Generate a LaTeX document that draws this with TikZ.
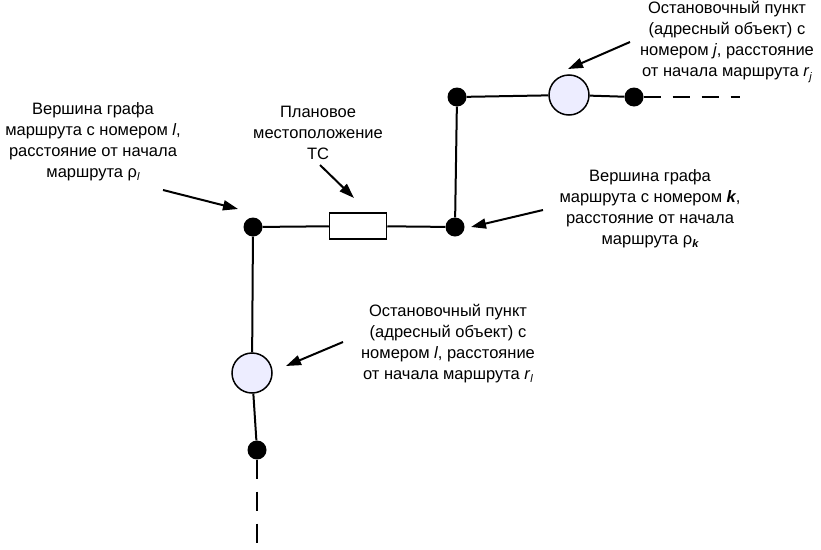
\documentclass[tikz,border=0pt]{standalone}
\usepackage{fontspec}
\setmainfont{Liberation Sans}
\usetikzlibrary{arrows.meta}
\newcommand{\lsub}[1]{\raisebox{-0.35ex}{\fontsize{11pt}{11pt}\selectfont\itshape #1}}
\tikzset{
  dot/.style={circle,fill=black,inner sep=0pt,minimum size=19pt},
  stopc/.style={circle,draw=black,line width=1.5pt,fill=blue!7!white,inner sep=0pt,minimum size=40pt},
  tcbox/.style={draw=black,line width=1.5pt,fill=white,minimum width=57pt,minimum height=26pt,inner sep=0pt},
  route/.style={line width=2pt},
  pointer/.style={line width=2pt,-{Triangle[length=15pt,width=10pt]}},
  lbl/.style={align=center,font=\fontsize{16.5pt}{21pt}\selectfont,inner sep=0pt},
}
\begin{document}
\begin{tikzpicture}[x=1pt,y=-1pt]
\useasboundingbox (0,0) rectangle (821,549);
% nodes
\node[dot] (vl) at (253,227) {};
\node[tcbox] (tc) at (358,226) {};
\node[dot] (vk) at (455,227) {};
\node[dot] (vt) at (457,97) {};
\node[stopc] (sj) at (569,95) {};
\node[dot] (dj) at (634,97) {};
\coordinate (ej) at (740,97);
\node[stopc] (sl) at (252,373) {};
\node[dot] (db) at (257,450) {};
\coordinate (eb) at (257,549);
% route
\draw[route] (vl) -- (tc) -- (vk) -- (vt) -- (sj) -- (dj);
\draw[route] (vl) -- (sl) -- (db);
\draw[route,dash pattern=on 17pt off 12pt] (dj.east) -- (ej);
\draw[route,dash pattern=on 19pt off 13pt] (db.south) -- (eb);
% labels
\node[lbl] (ll) at (93,142) {Вершина графа\\маршрута с номером \textit{l},\\расстояние от начала\\маршрута ρ\lsub{l}};
\node[lbl] (lt) at (318,133) {Плановое\\местоположение\\ТС};
\node[lbl] (lj) at (727,42) {Остановочный пункт\\(адресный объект) с\\номером \textit{j}, расстояние\\от начала маршрута \textit{r}\lsub{j}};
\node[lbl] (lk) at (650,209) {Вершина графа\\маршрута с номером \textit{\textbf{k}},\\расстояние от начала\\маршрута ρ\lsub{\textbf{k}}};
\node[lbl] (lb) at (448,344) {Остановочный пункт\\(адресный объект) с\\номером \textit{l}, расстояние\\от начала маршрута \textit{r}\lsub{l}};
% pointers
\coordinate (pl0) at (163,190); \coordinate (pl1) at (238,209);
\coordinate (pt0) at (320,165); \coordinate (pt1) at (354,198);
\coordinate (pk0) at (543,210); \coordinate (pk1) at (471,227);
\coordinate (pj0) at (630,42); \coordinate (pj1) at (568,69);
\coordinate (pb0) at (343,342); \coordinate (pb1) at (286,366);
\draw[pointer] (pl0) -- (pl1);
\draw[pointer] (pt0) -- (pt1);
\draw[pointer] (pk0) -- (pk1);
\draw[pointer] (pj0) -- (pj1);
\draw[pointer] (pb0) -- (pb1);
\end{tikzpicture}
\end{document}
